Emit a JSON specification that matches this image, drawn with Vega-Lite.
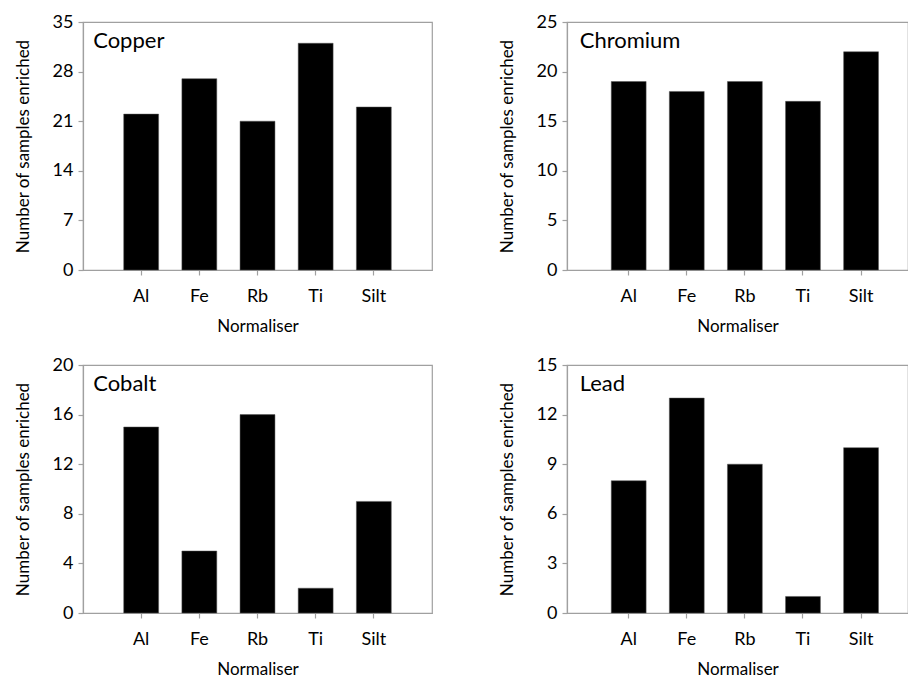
{
  "$schema": "https://vega.github.io/schema/vega-lite/v6.json",
  "padding": {"left": 13, "top": 12, "right": 0, "bottom": 0},
  "background": "white",
  "data": {"values": [
    {"metal": "Copper", "normaliser": "Al", "count": 22},
    {"metal": "Copper", "normaliser": "Fe", "count": 27},
    {"metal": "Copper", "normaliser": "Rb", "count": 21},
    {"metal": "Copper", "normaliser": "Ti", "count": 32},
    {"metal": "Copper", "normaliser": "Silt", "count": 23},
    {"metal": "Chromium", "normaliser": "Al", "count": 19},
    {"metal": "Chromium", "normaliser": "Fe", "count": 18},
    {"metal": "Chromium", "normaliser": "Rb", "count": 19},
    {"metal": "Chromium", "normaliser": "Ti", "count": 17},
    {"metal": "Chromium", "normaliser": "Silt", "count": 22},
    {"metal": "Cobalt", "normaliser": "Al", "count": 15},
    {"metal": "Cobalt", "normaliser": "Fe", "count": 5},
    {"metal": "Cobalt", "normaliser": "Rb", "count": 16},
    {"metal": "Cobalt", "normaliser": "Ti", "count": 2},
    {"metal": "Cobalt", "normaliser": "Silt", "count": 9},
    {"metal": "Lead", "normaliser": "Al", "count": 8},
    {"metal": "Lead", "normaliser": "Fe", "count": 13},
    {"metal": "Lead", "normaliser": "Rb", "count": 9},
    {"metal": "Lead", "normaliser": "Ti", "count": 1},
    {"metal": "Lead", "normaliser": "Silt", "count": 10}
  ]},
  "bounds": "flush",
  "columns": 2,
  "align": "each",
  "spacing": {"row": 95, "column": 135},
  "concat": [
    {
      "width": 349, "height": 248,
      "transform": [{"filter": "datum.metal === 'Copper'"}],
      "encoding": {
        "x": {"field": "normaliser", "type": "nominal", "sort": ["Al", "Fe", "Rb", "Ti", "Silt"], "title": "Normaliser",
              "scale": {"paddingInner": 0.4, "paddingOuter": 0.7, "align": 0.5}},
        "y": {"field": "count", "type": "quantitative", "title": "Number of samples enriched",
              "scale": {"domain": [0, 35], "nice": false},
              "axis": {"values": [0, 7, 14, 21, 28, 35]}}
      },
      "layer": [
        {"mark": {"type": "bar", "fill": "black", "stroke": "#555", "strokeWidth": 0.5}},
        {"transform": [{"filter": "datum.normaliser === 'Al'"}],
         "mark": {"type": "text", "align": "left", "baseline": "alphabetic", "fontSize": 22, "fontWeight": "normal", "font": "Lato", "color": "black", "dx": -48, "dy": 26},
         "encoding": {"x": {"datum": "Al"}, "y": {"datum": 35}, "text": {"value": "Copper"}}}
      ]
    },
    {
      "width": 341, "height": 248,
      "transform": [{"filter": "datum.metal === 'Chromium'"}],
      "encoding": {
        "x": {"field": "normaliser", "type": "nominal", "sort": ["Al", "Fe", "Rb", "Ti", "Silt"], "title": "Normaliser",
              "scale": {"paddingInner": 0.4, "paddingOuter": 0.635, "align": 0.6}},
        "y": {"field": "count", "type": "quantitative", "title": "Number of samples enriched",
              "scale": {"domain": [0, 25], "nice": false},
              "axis": {"values": [0, 5, 10, 15, 20, 25]}}
      },
      "layer": [
        {"mark": {"type": "bar", "fill": "black", "stroke": "#555", "strokeWidth": 0.5}},
        {"transform": [{"filter": "datum.normaliser === 'Al'"}],
         "mark": {"type": "text", "align": "left", "baseline": "alphabetic", "fontSize": 22, "fontWeight": "normal", "font": "Lato", "color": "black", "dx": -49, "dy": 26},
         "encoding": {"x": {"datum": "Al"}, "y": {"datum": 25}, "text": {"value": "Chromium"}}}
      ]
    },
    {
      "width": 349, "height": 248,
      "transform": [{"filter": "datum.metal === 'Cobalt'"}],
      "encoding": {
        "x": {"field": "normaliser", "type": "nominal", "sort": ["Al", "Fe", "Rb", "Ti", "Silt"], "title": "Normaliser",
              "scale": {"paddingInner": 0.4, "paddingOuter": 0.7, "align": 0.5}},
        "y": {"field": "count", "type": "quantitative", "title": "Number of samples enriched",
              "scale": {"domain": [0, 20], "nice": false},
              "axis": {"values": [0, 4, 8, 12, 16, 20]}}
      },
      "layer": [
        {"mark": {"type": "bar", "fill": "black", "stroke": "#555", "strokeWidth": 0.5}},
        {"transform": [{"filter": "datum.normaliser === 'Al'"}],
         "mark": {"type": "text", "align": "left", "baseline": "alphabetic", "fontSize": 22, "fontWeight": "normal", "font": "Lato", "color": "black", "dx": -48, "dy": 26},
         "encoding": {"x": {"datum": "Al"}, "y": {"datum": 20}, "text": {"value": "Cobalt"}}}
      ]
    },
    {
      "width": 341, "height": 248,
      "transform": [{"filter": "datum.metal === 'Lead'"}],
      "encoding": {
        "x": {"field": "normaliser", "type": "nominal", "sort": ["Al", "Fe", "Rb", "Ti", "Silt"], "title": "Normaliser",
              "scale": {"paddingInner": 0.4, "paddingOuter": 0.635, "align": 0.6}},
        "y": {"field": "count", "type": "quantitative", "title": "Number of samples enriched",
              "scale": {"domain": [0, 15], "nice": false},
              "axis": {"values": [0, 3, 6, 9, 12, 15]}}
      },
      "layer": [
        {"mark": {"type": "bar", "fill": "black", "stroke": "#555", "strokeWidth": 0.5}},
        {"transform": [{"filter": "datum.normaliser === 'Al'"}],
         "mark": {"type": "text", "align": "left", "baseline": "alphabetic", "fontSize": 22, "fontWeight": "normal", "font": "Lato", "color": "black", "dx": -49, "dy": 26},
         "encoding": {"x": {"datum": "Al"}, "y": {"datum": 15}, "text": {"value": "Lead"}}}
      ]
    }
  ],
  "config": {
    "font": "Lato",
    "view": {"stroke": "#a0a0a0", "strokeWidth": 1.2},
    "axis": {
      "grid": false,
      "domainColor": "#a0a0a0",
      "domainWidth": 1.2,
      "tickColor": "#a0a0a0",
      "tickWidth": 1.2,
      "tickSize": 5,
      "labelFont": "Lato",
      "labelFontSize": 18,
      "labelColor": "black",
      "titleFont": "Lato",
      "titleFontSize": 17,
      "titleFontWeight": "normal",
      "titleColor": "black"
    },
    "axisX": {"labelAngle": 0, "labelPadding": 12, "titlePadding": 13},
    "axisY": {"labelPadding": 5, "titlePadding": 20}
  }
}
